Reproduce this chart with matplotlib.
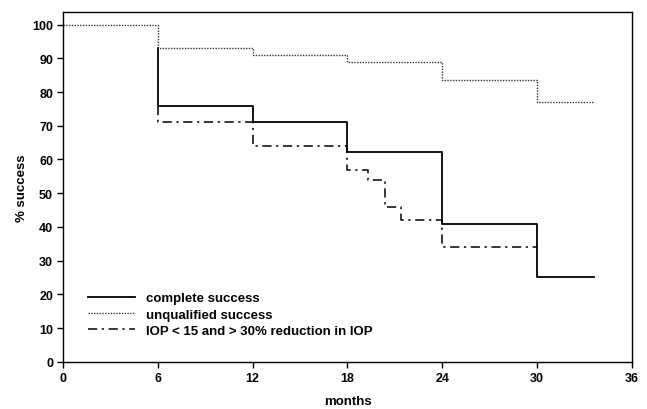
import matplotlib
matplotlib.use('Agg')
import matplotlib.pyplot as plt

plt.rcParams['font.family'] = ['Liberation Sans', 'DejaVu Sans']

# Kaplan-Meier style step data (months, % success)
unq_t = [0, 6, 12, 18, 24, 30, 33.6]
unq_v = [100, 93, 91, 89, 83.5, 77, 77]

comp_t = [6, 6, 12, 18, 24, 30, 33.6]
comp_v = [93, 76, 71, 62.3, 41, 25.3, 25.3]

iop_t = [6, 6, 12, 18, 19.3, 20.4, 21.4, 24, 30]
iop_v = [76, 71, 64, 57, 54, 46, 42, 34, 34]

xticks = [0, 6, 12, 18, 24, 30, 36]
yticks = list(range(0, 101, 10))

fig = plt.figure(figsize=(6.47, 4.10), dpi=100)
ax = fig.add_axes([0.097, 0.115, 0.880, 0.853])

ax.step(comp_t, comp_v, where='post', color='black', lw=1.3, label='complete success')
ax.step(unq_t, unq_v, where='post', color='#333333', lw=1.0, linestyle=(0, (1, 1)),
        label='unqualified success')
ax.step(iop_t, iop_v, where='post', color='black', lw=1.1, linestyle=(0, (6, 3, 1.5, 3)),
        label='IOP < 15 and > 30% reduction in IOP')

ax.set_xlim(0, 36)
ax.set_ylim(0, 103.7)
ax.set_xticks(xticks)
ax.set_yticks(yticks)
ax.tick_params(direction='out', length=4, width=1, labelsize=9, pad=3)
for lab in ax.get_xticklabels() + ax.get_yticklabels():
    lab.set_fontweight('bold')
for sp in ax.spines.values():
    sp.set_linewidth(1.0)

ax.set_xlabel('months', fontsize=9.5, fontweight='bold', labelpad=8)
ax.set_ylabel('% success', fontsize=9.5, fontweight='bold', labelpad=3)

ax.legend(loc='upper left', bbox_to_anchor=(0.035, 0.215), frameon=False,
          prop={'weight': 'bold', 'size': 9.5}, handlelength=3.6, labelspacing=0.32,
          handletextpad=0.8, borderaxespad=0)

fig.savefig('out.png', dpi=100)
